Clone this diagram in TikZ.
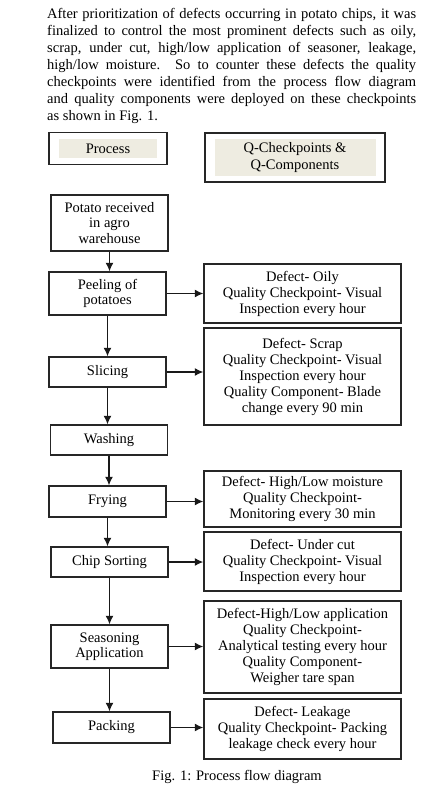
\documentclass[tikz,border=0pt]{standalone}
\usepackage{fontspec}
\setmainfont{Liberation Serif}
\usetikzlibrary{arrows.meta}
\definecolor{legendfill}{HTML}{EEECE1}

\begin{document}
\begin{tikzpicture}[x=1pt,y=-1pt]
    \tikzset{procbox/.style = {shape=rectangle,draw=black!85,line width=1.4pt,fill=white,minimum width=117pt,inner sep=0pt,align=center,font=\fontsize{14.5}{15.5}\selectfont}}
    \tikzset{checkbox/.style = {procbox,minimum width=197pt,font=\fontsize{14.5}{16}\selectfont}}
    \tikzset{legendfillbox/.style = {shape=rectangle,fill=legendfill,inner sep=0pt,align=center,font=\fontsize{14.5}{16.5}\selectfont}}
    \tikzset{edge/.style = {-{Latex[length=8.5pt,width=8pt]},line width=1.3pt,draw=black!90}}
    \useasboundingbox (0,0) rectangle (435,799);
    % text above
    \node[anchor=north west,inner sep=0pt,text width=369pt,align=justify,font=\fontsize{14.5}{17}\selectfont] (intro) at (47,8)
    {After prioritization of defects occurring in potato chips, it was\linebreak
    finalized to control the most prominent defects such as oily,\linebreak
    scrap, under cut, high/low application of seasoner, leakage,\linebreak
    high/low moisture. So to counter these defects the quality\linebreak
    checkpoints were identified from the process flow diagram\linebreak
    and quality components were deployed on these checkpoints\linebreak
    as shown in Fig. 1.};
    % legend
    \node[procbox,minimum width=118pt,minimum height=32pt] (legproc) at (108,148.5) {};
    \node[legendfillbox,minimum width=98pt,minimum height=19pt] (legproctext) at (legproc) {Process};
    \node[procbox,minimum width=180pt,minimum height=49pt] (legcheck) at (295,157.5) {};
    \node[legendfillbox,minimum width=161pt,minimum height=37pt] (legchecktext) at (legcheck) {Q-Checkpoints \&\\Q-Components};
    % process steps
    \node[procbox,minimum height=56pt] (recv) at (109.5,223) {Potato received\\in agro\\warehouse};
    \node[procbox,minimum height=43pt] (peel) at (107.5,293.5) {Peeling of\\potatoes};
    \node[procbox,minimum height=30pt] (slice) at (107.5,372) {Slicing};
    \node[procbox,minimum height=30pt] (wash) at (109,440) {Washing};
    \node[procbox,minimum height=31pt] (fry) at (107.5,501.5) {Frying};
    \node[procbox,minimum height=30pt] (sort) at (109.5,562) {Chip Sorting};
    \node[procbox,minimum height=43pt] (season) at (109.5,646.5) {Seasoning\\Application};
    \node[procbox,minimum height=31pt] (pack) at (111.5,727.5) {Packing};
    % checkpoints
    \node[checkbox,minimum height=59pt] (oily) at (302.5,293.5) {Defect- Oily\\Quality Checkpoint- Visual\\Inspection every hour};
    \node[checkbox,minimum height=97pt] (scrap) at (302.5,376.5) {Defect- Scrap\\Quality Checkpoint- Visual\\Inspection every hour\\Quality Component- Blade\\change every 90 min};
    \node[checkbox,minimum height=56pt] (moist) at (302.5,499) {Defect- High/Low moisture\\Quality Checkpoint-\\Monitoring every 30 min};
    \node[checkbox,minimum height=59pt] (cut) at (302.5,561.5) {Defect- Under cut\\Quality Checkpoint- Visual\\Inspection every hour};
    \node[checkbox,minimum height=92pt] (appl) at (302.5,647) {Defect-High/Low application\\Quality Checkpoint-\\Analytical testing every hour\\Quality Component-\\Weigher tare span};
    \node[checkbox,minimum height=60pt] (leak) at (302.5,729) {Defect- Leakage\\Quality Checkpoint- Packing\\leakage check every hour};
    % caption
    \node[anchor=base,inner sep=0pt,font=\fontsize{14.5}{17}\selectfont] (caption) at (237,780) {Fig. 1: Process flow diagram};
    %edges
    \foreach \a/\b in {recv/peel,peel/slice,slice/wash,wash/fry,fry/sort,sort/season,season/pack}
    \draw[edge] (\a.south) -- (\a.south |- \b.north);
    \foreach \a/\b in {peel/oily,slice/scrap,fry/moist,sort/cut,season/appl,pack/leak}
    \draw[edge] (\a.east) -- (\a.east -| \b.west);
\end{tikzpicture}
\end{document}
